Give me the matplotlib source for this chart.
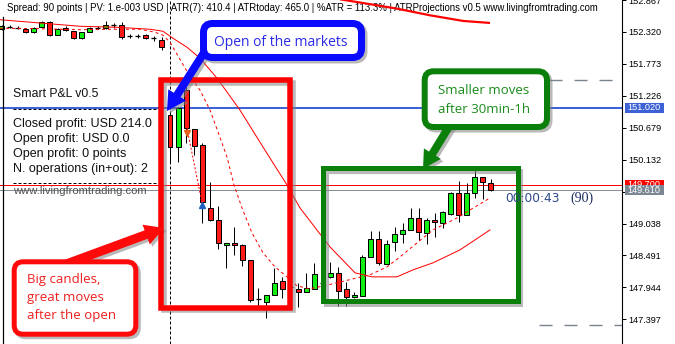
import matplotlib
matplotlib.use('Agg')
import matplotlib.pyplot as plt
from matplotlib.patches import Rectangle, FancyBboxPatch, FancyArrow
import matplotlib.transforms as mtransforms

plt.rcParams['font.family'] = ['Liberation Sans', 'DejaVu Sans']

# ---------------- data ----------------
candle_index = list(range(-21, 41))
opens = [152.366, 152.405, 152.388, 152.371, 152.315, 152.405, 152.498, 152.276, 152.383, 152.332,
         152.212, 152.327, 152.386, 152.388, 152.435, 152.440, 152.246, 152.246, 152.264, 152.217,
         152.183, 150.896, 150.343, 151.323, 150.651, 150.383, 149.305, 149.095, 148.667, 148.707,
         148.672, 148.411, 147.744, 147.693, 147.812, 148.057, 147.949, 147.920, 147.864, 147.920,
         148.020, 148.120, 148.188, 147.915, 147.778, 147.800, 148.472, 148.770, 148.348, 148.729,
         148.861, 148.929, 149.129, 148.873, 149.100, 149.044, 149.197, 149.556, 149.185, 149.556,
         149.830, 149.738]
highs = [152.435, 152.447, 152.429, 152.388, 152.405, 152.508, 152.508, 152.383, 152.417, 152.344,
         152.327, 152.412, 152.429, 152.503, 152.474, 152.486, 152.281, 152.281, 152.281, 152.258,
         152.229, 150.947, 151.030, 151.409, 150.660, 150.422, 149.745, 149.339, 148.710, 148.985,
         148.680, 148.420, 147.932, 147.820, 148.274, 148.130, 148.040, 148.018, 148.199, 148.360,
         148.060, 148.387, 148.302, 148.045, 147.869, 148.502, 148.912, 148.912, 148.758, 148.985,
         149.054, 149.300, 149.300, 149.134, 149.215, 149.260, 149.584, 149.772, 149.738, 149.955,
         149.840, 149.801]
lows = [152.349, 152.388, 152.371, 152.303, 152.303, 152.383, 152.246, 152.269, 152.344, 152.200,
        152.200, 152.315, 152.371, 152.378, 152.388, 152.200, 152.212, 152.212, 152.200, 152.166,
        152.019, 150.070, 150.097, 150.412, 150.212, 149.054, 149.090, 148.599, 148.274, 148.502,
        148.313, 147.686, 147.618, 147.419, 147.810, 147.761, 147.850, 147.607, 147.860, 147.918,
        147.980, 148.110, 147.629, 147.629, 147.767, 147.790, 148.460, 148.331, 148.340, 148.575,
        148.702, 148.920, 148.758, 148.684, 148.814, 148.958, 149.190, 149.071, 149.180, 149.471,
        149.454, 149.600]
closes = [152.417, 152.408, 152.390, 152.327, 152.383, 152.498, 152.269, 152.371, 152.354, 152.212,
          152.315, 152.395, 152.390, 152.447, 152.437, 152.229, 152.248, 152.244, 152.212, 152.219,
          152.058, 150.343, 151.010, 150.668, 150.371, 149.413, 149.095, 148.702, 148.707, 148.667,
          148.411, 147.732, 147.746, 147.817, 148.023, 147.925, 147.947, 147.864, 147.932, 148.177,
          148.022, 148.188, 147.891, 147.778, 147.812, 148.472, 148.775, 148.360, 148.684, 148.861,
          148.929, 149.129, 148.890, 149.095, 149.061, 149.237, 149.567, 149.185, 149.556, 149.830,
          149.745, 149.610]

ma_slow_x = [21.2, 23.28, 28.27, 32.42, 36.57, 39.9]
ma_slow_y = [152.879, 152.833, 152.720, 152.605, 152.508, 152.474]

ma_mid_x = [-21.20, -15.84, -11.22, -6.61, -2.49, -0.87, 0.37, 2.12, 3.74, 5.86, 8.73, 11.60,
            14.59, 16.21, 19.95, 23.07, 25.19, 28.30, 30.30, 32.79, 36.16, 39.90]
ma_mid_y = [152.529, 152.469, 152.417, 152.400, 152.366, 152.332, 152.212, 152.058, 151.870,
            151.528, 150.981, 150.348, 149.698, 149.305, 148.638, 148.194, 148.125, 148.125,
            148.245, 148.365, 148.587, 148.929]

ma_fast_x = [-21.20, -16.21, -11.22, -7.48, -3.74, -1.87, -0.87, 0.00, 0.87, 1.87, 2.87, 3.74,
             4.99, 5.99, 7.11, 7.98, 8.98, 10.22, 11.60, 13.09, 14.59, 15.84, 17.46, 20.32,
             23.32, 24.94, 27.06, 28.68, 30.80, 32.79, 34.04, 35.79, 37.41, 39.90]
ma_fast_y = [152.383, 152.375, 152.358, 152.366, 152.366, 152.315, 152.264, 152.144, 151.939,
             151.699, 151.494, 151.323, 150.981, 150.605, 150.177, 149.699, 149.305, 148.878,
             148.536, 148.296, 148.125, 147.971, 147.920, 148.006, 148.108, 148.160, 148.296,
             148.467, 148.707, 148.929, 149.014, 149.134, 149.271, 149.476]

trade_x = [2.12, 3.99]
trade_y = [150.673, 149.391]
sell_x, sell_y = 2.08, 150.59
buy_x, buy_y = 4.0, 149.36

price_ticks = [147.397, 147.944, 148.491, 149.038, 149.585, 150.132, 150.679,
               151.226, 151.773, 152.320, 152.867]
hidden_tick = 149.585
blue_level = 151.020
ask_level = 149.700
bid_level = 149.610
atr_high, atr_high_start = 151.503, 41.0
atr_low, atr_low_start = 147.304, 46.0
open_index = 0

header = ("Spread: 90 points | PV: 1.e-003 USD | ATR(7): 410.4 | ATRtoday: 465.0 | "
          "%ATR = 113.3% | ATRProjections v0.5 www.livingfromtrading.com")
pl_title = "Smart P&L v0.5"
pl_lines = ["Closed profit: USD 214.0", "Open profit: USD 0.0",
            "Open profit: 0 points", "N. operations (in+out): 2"]
pl_site = "www.livingfromtrading.com"
timer_text = "00:00:43"
spread_text = "(90)"

# ---------------- layout ----------------
W, H = 675, 344
PX = 0.72
fig = plt.figure(figsize=(W / 100, H / 100), dpi=100)
fig.patch.set_facecolor('white')
AXR = 622
STEP, X0 = 8.02, 170
YMIN, YMAX = 146.975, 152.862

ax = fig.add_axes([0, 0, AXR / W, 1])
ax.set_facecolor('white')
ax.set_xlim(-X0 / STEP, (AXR - X0) / STEP)
ax.set_ylim(YMIN, YMAX)
for s in ['left', 'top', 'bottom']:
    ax.spines[s].set_visible(False)
ax.spines['right'].set_linewidth(1.1 * PX)
ax.spines['right'].set_color('black')
ax.set_xticks([])
ax.yaxis.tick_right()
ax.set_yticks(price_ticks)
ax.set_yticklabels(['' if v == hidden_tick else f'{v:.3f}' for v in price_ticks])
ax.tick_params(axis='y', direction='out', length=3.5 * PX, width=PX, pad=2.5 * PX,
               labelsize=6.6, colors='black')

# horizontal levels
ax.axhline(blue_level, color='#3d62d6', lw=2 * PX, zorder=1)
ax.axhline(ask_level, color='#ff0000', lw=1 * PX, zorder=1)
ax.axhline(bid_level, color='#8a9098', lw=1 * PX, zorder=1)
xr = ax.get_xlim()[1]
ax.hlines(atr_high, atr_high_start, xr, colors='#7a8490', lw=1.0, linestyles=(0, (9.4, 8.6)), zorder=1)
ax.hlines(atr_low, atr_low_start, xr, colors='#7a8490', lw=1.0, linestyles=(0, (9.4, 8.6)), zorder=1)
ax.axvline(open_index, color='black', lw=PX, linestyle=(0, (3, 2)), zorder=1)

# candles
BW = 0.62
for i, o, h, l, c in zip(candle_index, opens, highs, lows, closes):
    ax.vlines(i, l, h, color='black', lw=PX, zorder=3)
    if abs(c - o) < 0.01:
        ax.hlines((o + c) / 2, i - BW / 2, i + BW / 2, color='black', lw=1.3 * PX, zorder=4)
    else:
        col = '#11ee11' if c > o else '#ff1a1a'
        ax.add_patch(Rectangle((i - BW / 2, min(o, c)), BW, abs(c - o), facecolor=col,
                               edgecolor='black', lw=PX, zorder=4))

# moving averages / trade
ax.plot(ma_slow_x, ma_slow_y, color='#ff0000', lw=2.2 * PX, zorder=5, solid_capstyle='butt')
ax.plot(ma_mid_x, ma_mid_y, color='#ff0000', lw=PX, zorder=5)
ax.plot(ma_fast_x, ma_fast_y, color='#ff0000', lw=PX, linestyle=(0, (3, 3)), zorder=5)
ax.plot(trade_x, trade_y, color='#ff0000', lw=PX, linestyle=(0, (2, 2)), zorder=5)
ax.plot([sell_x], [sell_y], marker='v', color='#e8601c', ms=4.5, zorder=6)
ax.plot([buy_x], [buy_y], marker='^', color='#2060c0', ms=4.5, zorder=6)

# overlay in pixel coordinates
ov = fig.add_axes([0, 0, 1, 1], zorder=5)
ov.set_xlim(0, W)
ov.set_ylim(H, 0)
ov.axis('off')
ov.patch.set_visible(False)

# header text (under indicator lines)
ax.text(7, 11, header, transform=ov.transData, fontsize=6.9, color='black',
        va='baseline', ha='left', zorder=1.5, clip_on=False)

ov.plot([3, 3], [17, H], color='black', lw=1.2 * PX)

# price labels on the right
bt = mtransforms.blended_transform_factory(ov.transData, ax.transData)
hh = 10.5 * (YMAX - YMIN) / H
for lvl, col in [(ask_level, '#ff0000'), (bid_level, '#7b8794'), (blue_level, '#3d62d6')]:
    ov.add_patch(Rectangle((625, lvl - hh / 2), 39, hh, transform=bt, facecolor=col,
                           edgecolor='none', zorder=3, clip_on=False))
    ov.text(627, lvl, f'{lvl:.3f}', transform=bt, color='white', fontsize=6.6,
            va='center', ha='left', zorder=4, clip_on=False)

# Smart P&L block
ov.text(13, 97.3, pl_title, fontsize=8.8, color='#111111', va='baseline')
ov.plot([13, 160], [109, 109], color='black', lw=PX, linestyle=(0, (3, 2)))
for k, t in enumerate(pl_lines):
    ov.text(13, 126.7 + 15 * k, t, fontsize=9.0, color='#111111', va='baseline')
ov.plot([13, 160], [182.5, 182.5], color='black', lw=PX, linestyle=(0, (3, 2)))
ov.text(13, 194, pl_site, fontsize=8.1, color='#505050', va='baseline')

ov.text(505, 202, timer_text, fontsize=8.8, color='#2e4a8c', va='baseline',
        family='DejaVu Sans')
ov.text(570, 202, spread_text, fontsize=10, color='#1a2a5e', va='baseline',
        family='Liberation Serif')

SH = '#808080'


def frame(x0, y0, x1, y1, color, lw):
    ov.add_patch(Rectangle((x0 + 2.5, y0 + 2.5), x1 - x0, y1 - y0, fill=False,
                           edgecolor=SH, alpha=0.55, lw=lw * PX, joinstyle='miter', zorder=1))
    ov.add_patch(Rectangle((x0, y0), x1 - x0, y1 - y0, fill=False, edgecolor=color,
                           lw=lw * PX, joinstyle='miter', zorder=2))


def callout(x0, y0, x1, y1, color, lw, start, tip, sw, hw, hl):
    dx, dy = tip[0] - start[0], tip[1] - start[1]
    for off, col, al, z in [(2.5, SH, 0.55, 1), (0, color, 1, 2)]:
        ov.add_patch(FancyArrow(start[0] + off, start[1] + off, dx, dy, width=sw,
                                head_width=hw, head_length=hl, length_includes_head=True,
                                color=col, alpha=al, lw=0, zorder=z))
    ov.add_patch(FancyBboxPatch((x0 + 2.5, y0 + 2.5), x1 - x0, y1 - y0,
                                boxstyle='round,pad=0,rounding_size=9', facecolor='none',
                                edgecolor=SH, alpha=0.55, lw=lw * PX, zorder=1.5))
    ov.add_patch(FancyBboxPatch((x0, y0), x1 - x0, y1 - y0,
                                boxstyle='round,pad=0,rounding_size=9', facecolor='white',
                                edgecolor=color, lw=lw * PX, zorder=2.5))


frame(161, 80, 290, 307.5, '#ff0000', 5.5)
frame(323, 168.3, 517.5, 301, '#0a800a', 5)

callout(203.5, 23.5, 361.5, 57.5, '#0a0aff', 7, (212, 40), (167, 111), 8, 21, 19)
ov.text(280.5, 46.5, 'Open of the markets', fontsize=10, color='#2b2be6',
        ha='center', va='baseline', family='Open Sans', zorder=3)

callout(424.7, 71.3, 547, 127, '#0a800a', 6, (458, 112), (423, 169), 8, 20, 18)
ov.text(438.3, 94.3, 'Smaller moves', fontsize=9.5, color='#1a8a1a', va='baseline',
        family='Open Sans', zorder=3)
ov.text(438.3, 113.3, 'after 30min-1h', fontsize=9.5, color='#1a8a1a', va='baseline',
        family='Open Sans', zorder=3)

callout(14.2, 261.8, 135.8, 334.2, '#ff0a0a', 5, (58, 267), (164, 228), 9, 21, 19)
for k, t in enumerate(['Big candles,', 'great moves', 'after the open']):
    ov.text(27.3, 283.3 + 18 * k, t, fontsize=9.5, color='#ee2020', va='baseline',
            family='Open Sans', zorder=3)

fig.savefig('out.png', dpi=100, facecolor='white')
